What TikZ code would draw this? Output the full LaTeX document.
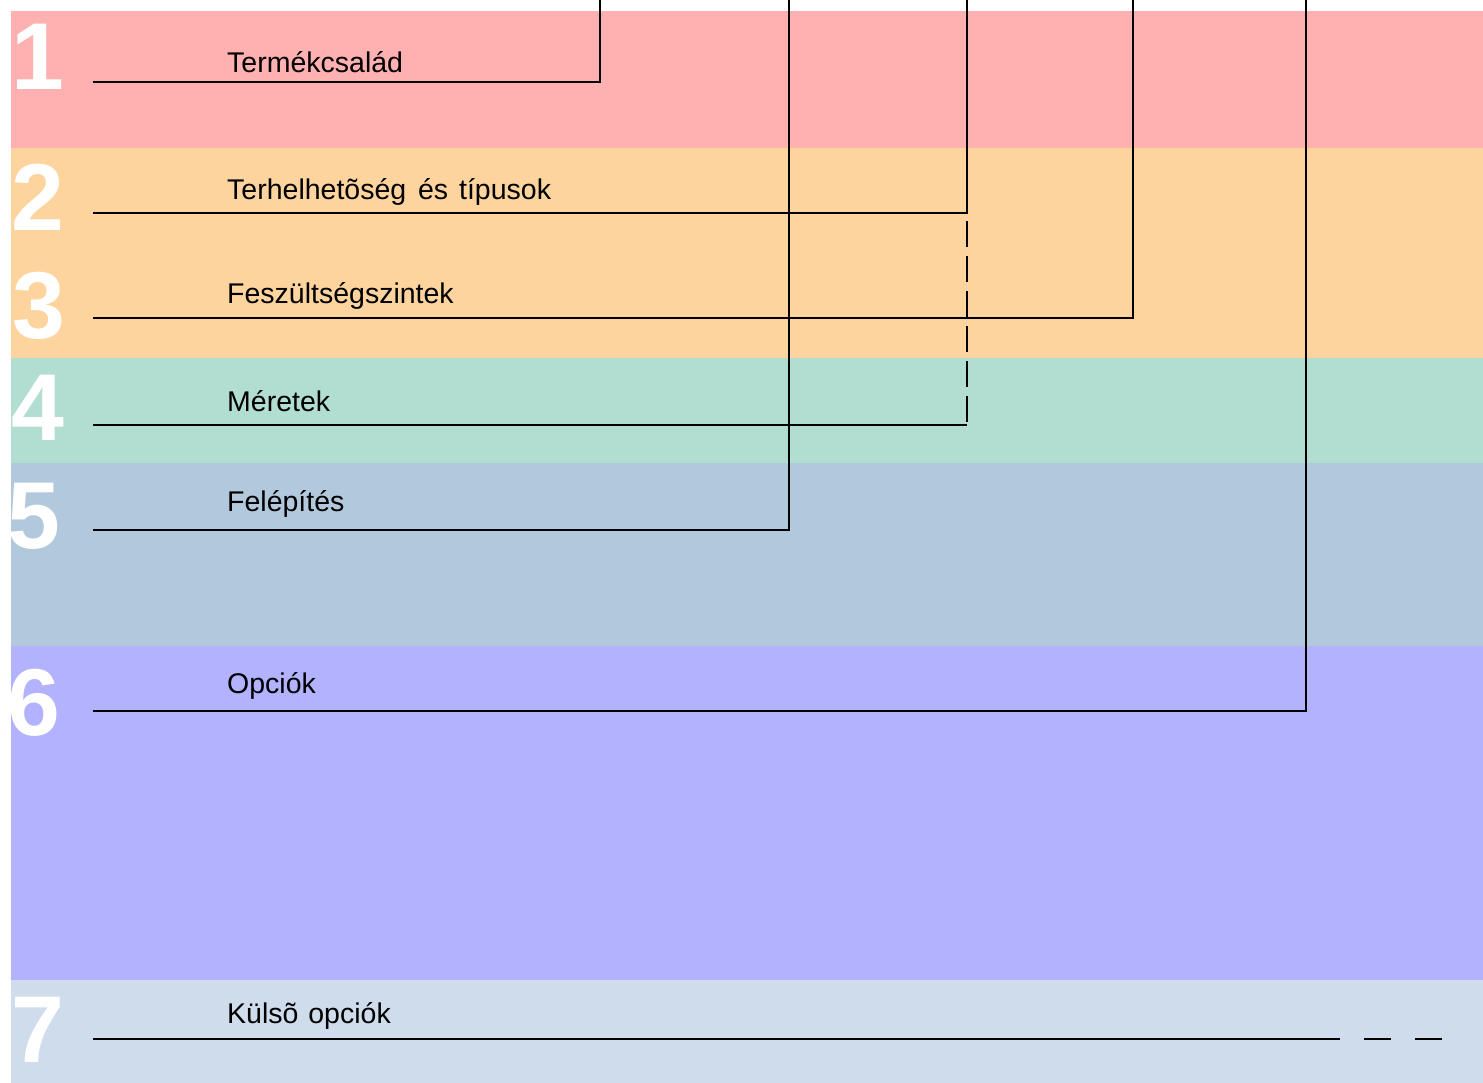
\documentclass[tikz,border=0pt]{standalone}
\usepackage{fontspec}
\setmainfont{Liberation Sans}
\definecolor{cA}{HTML}{FFB0B0}
\definecolor{cB}{HTML}{FED49E}
\definecolor{cC}{HTML}{B2DED2}
\definecolor{cD}{HTML}{B2C8DD}
\definecolor{cE}{HTML}{B2B2FF}
\definecolor{cF}{HTML}{CFDCEC}
\begin{document}
\begin{tikzpicture}[x=1pt,y=-1pt,
  band/.style={fill=#1,draw=none},
  num/.style={anchor=base west,inner sep=0pt,text=white,font=\fontsize{95}{95}\selectfont\bfseries},
  lbl/.style={anchor=base west,inner sep=0pt,font=\fontsize{28.5}{28.5}\selectfont},
  ln/.style={line width=2.2pt,black},
  dln/.style={line width=2.2pt,black,dash pattern=on 26pt off 9pt}]
\useasboundingbox (0,0) rectangle (1483,1083);
\fill[white] (0,0) rectangle (1483,1083);
% bands
\fill[band=cA] (11,11) rectangle (1483,148);
\fill[band=cB] (11,148) rectangle (1483,358);
\fill[band=cC] (11,358) rectangle (1483,463);
\fill[band=cD] (11,463) rectangle (1483,646);
\fill[band=cE] (11,646) rectangle (1483,980);
\fill[band=cF] (11,980) rectangle (1483,1083);
% numbers
\begin{scope}
\clip (11,11) rectangle (1483,1083);
\node[num] (n1) at (11,90) {1};
\node[num] (n2) at (11,231) {2};
\node[num] (n3) at (12,338) {3};
\node[num] (n4) at (11,440) {4};
\node[num] (n5) at (7,548) {5};
\node[num] (n6) at (7,735) {6};
\node[num] (n7) at (11,1062) {7};
\end{scope}
% labels
\node[lbl] (l1) at (227,73) {Termékcsalád};
\node[lbl] (l2) at (227,200) {Terhelhetõség\hspace{4pt} és\hspace{3pt} típusok};
\node[lbl] (l3) at (227,304) {Feszültségszintek};
\node[lbl] (l4) at (227,411) {Méretek};
\node[lbl] (l5) at (227,511) {Felépítés};
\node[lbl] (l6) at (227,693) {Opciók};
\node[lbl] (l7) at (227,1023) {Külsõ\hspace{2pt} opciók};
% coordinates
\coordinate (s1) at (93,82);   \coordinate (c1) at (600,82);  \coordinate (t1) at (600,0);
\coordinate (s2) at (93,213);  \coordinate (c2) at (967,213); \coordinate (t2) at (967,0);
\coordinate (s3) at (93,318);  \coordinate (c3) at (1133,318);\coordinate (t3) at (1133,0);
\coordinate (s4) at (93,425);  \coordinate (c4) at (967,425);
\coordinate (s5) at (93,530);  \coordinate (c5) at (789,530); \coordinate (t5) at (789,0);
\coordinate (s6) at (93,711);  \coordinate (c6) at (1306,711);\coordinate (t6) at (1306,0);
\coordinate (s7) at (93,1039); \coordinate (e7) at (1321,1039);
\coordinate (d7a) at (1313,1039); \coordinate (d7b) at (1442,1039);
% connectors
\draw[ln] (s1) -- (c1) -- (t1);
\draw[ln] (s2) -- (c2) -- (t2);
\draw[ln] (s3) -- (c3) -- (t3);
\draw[ln] (s4) -- (c4);
\draw[dln,dash phase=-8pt] (c2) -- (c4);
\draw[ln] (s5) -- (c5) -- (t5);
\draw[ln] (s6) -- (c6) -- (t6);
\draw[ln] (s7) -- (e7);
\draw[ln,dash pattern=on 27pt off 24pt] (d7a) -- (d7b);
\end{tikzpicture}
\end{document}
